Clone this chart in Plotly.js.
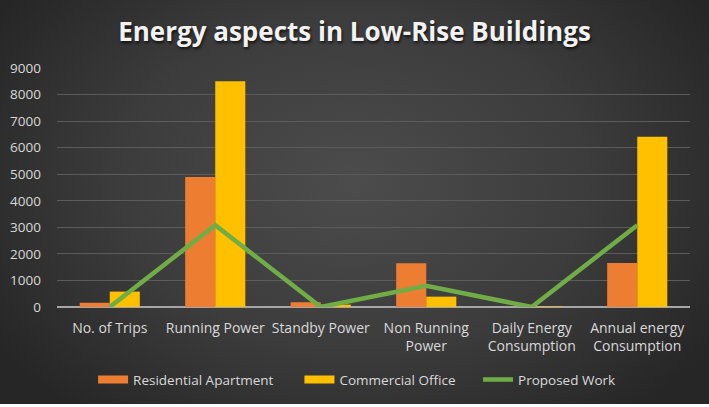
<!DOCTYPE html>
<html>
<head>
<meta charset="utf-8">
<script src="https://cdn.plot.ly/plotly-3.0.1.min.js"></script>
<style>
  html, body { margin: 0; padding: 0; background: #ffffff; }
  #chart { width: 709px; height: 404px;
    background: radial-gradient(ellipse 60% 75% at 50% 45%, #4c4c4c 0%, #3c3c3c 55%, #262626 100%); }
</style>
</head>
<body>
<div id="chart"></div>
<script>
const categories = ["No. of Trips", "Running Power", "Standby Power", "Non Running<br>Power", "Daily Energy<br>Consumption", "Annual energy<br>Consumption"];
const residential = [160, 4900, 180, 1650, 0, 1660];
const commercial = [580, 8500, 90, 390, 20, 6410];
const proposed = [0, 3080, 0, 800, 0, 3080];
const yTicks = [0, 1000, 2000, 3000, 4000, 5000, 6000, 7000, 8000, 9000];

const font = "'Open Sans', 'Noto Sans', sans-serif";
const orange = "#ED7D31", yellow = "#FFC000", green = "#70AD47";
const pad = n => "\u00A0".repeat(n);
const data = [
  { type: "bar", name: "Residential Apartment", x: categories, y: residential,
    marker: { color: orange, line: { width: 0 } }, showlegend: false },
  { type: "bar", name: "Commercial Office", x: categories, y: commercial,
    marker: { color: yellow, line: { width: 0 } }, showlegend: false },
  { type: "scatter", mode: "lines", name: "Proposed Work", x: categories, y: proposed,
    line: { color: green, width: 4.5 }, showlegend: false },
  // legend-only entries drawn as wide swatches like the reference
  { type: "scatter", mode: "lines", name: "Residential Apartment" + pad(6), x: [null], y: [null],
    line: { color: orange, width: 8 }, hoverinfo: "skip" },
  { type: "scatter", mode: "lines", name: "Commercial Office" + pad(5), x: [null], y: [null],
    line: { color: yellow, width: 8 }, hoverinfo: "skip" },
  { type: "scatter", mode: "lines", name: "Proposed Work", x: [null], y: [null],
    line: { color: green, width: 4.5 }, hoverinfo: "skip" }
];
const layout = {
  width: 709, height: 404,
  paper_bgcolor: "rgba(0,0,0,0)", plot_bgcolor: "rgba(0,0,0,0)",
  margin: { l: 57, r: 19, t: 68, b: 97 },
  title: { text: "<b>Energy aspects in Low-Rise Buildings</b>", x: 0.5, xanchor: "center",
    y: 0.922, yanchor: "middle", yref: "container",
    font: { family: font, size: 26, color: "#f2f2f2", shadow: "1px 2px 3px rgba(0,0,0,0.7)" } },
  barmode: "group", bargap: 0.43, bargroupgap: 0,
  xaxis: { tickfont: { family: font, size: 14, color: "#d9d9d9" }, showgrid: false,
    showline: false, ticks: "", zeroline: false, ticklabelstandoff: 11, automargin: false },
  yaxis: { range: [0, 9000], tickvals: yTicks, ticktext: yTicks.map(String),
    tickfont: { family: font, size: 13.5, color: "#d9d9d9" },
    gridcolor: "#5c5c5c", gridwidth: 1, zeroline: true, zerolinecolor: "#a6a6a6", zerolinewidth: 1.5,
    showline: false, ticks: "", ticklabelstandoff: 15, automargin: false },
  showlegend: true,
  legend: { orientation: "h", xref: "paper", x: 0.057, xanchor: "left",
    yref: "container", y: 0.06, yanchor: "middle",
    font: { family: font, size: 13.5, color: "#d9d9d9" }, traceorder: "normal",
    bgcolor: "rgba(0,0,0,0)" }
};
Plotly.newPlot("chart", data, layout, { displayModeBar: false, staticPlot: true });
</script>
</body>
</html>
